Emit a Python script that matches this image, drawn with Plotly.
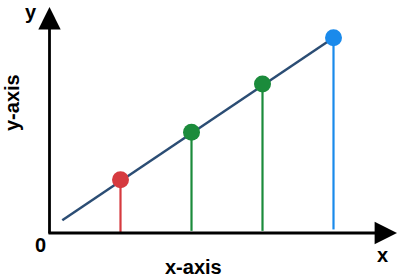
import plotly.graph_objects as go

# data (abstract units)
point_x = [1, 2, 3, 4]
point_y = [0.75, 1.42, 2.10, 2.75]
point_colors = ["#d63a3f", "#1b8b3b", "#1b8b3b", "#1a8aeb"]
stem_bottom = [0.0, 0.03, 0.03, 0.05]
line_x = [0.18, 4]
line_y = [0.18, 2.75]

fig = go.Figure()

# stems
for x, y, yb, c in zip(point_x, point_y, stem_bottom, point_colors):
    fig.add_trace(go.Scatter(x=[x, x], y=[yb, y], mode="lines",
                             line=dict(color=c, width=2.2), hoverinfo="skip"))

# trend line
fig.add_trace(go.Scatter(x=line_x, y=line_y, mode="lines",
                         line=dict(color="#2b4d74", width=2.5), hoverinfo="skip"))

# points
fig.add_trace(go.Scatter(x=point_x, y=point_y, mode="markers",
                         marker=dict(color=point_colors, size=17, line=dict(width=0)),
                         hoverinfo="skip"))

W, H = 400, 280
ox, oy, unit = 49.5, 233, 71.0
xr = [(0 - ox) / unit, (W - ox) / unit]
yr = [(oy - H) / unit, oy / unit]

def px(x):
    return (x - ox) / unit

def py(y):
    return (oy - y) / unit

# axes arrows
fig.add_annotation(x=px(397), y=py(233), ax=px(47), ay=py(233), xref="x", yref="y",
                   axref="x", ayref="y", text="", showarrow=True, arrowhead=2,
                   arrowsize=1.6, arrowwidth=2.8, arrowcolor="black", standoff=0)
fig.add_annotation(x=px(49.5), y=py(7), ax=px(49.5), ay=py(235), xref="x", yref="y",
                   axref="x", ayref="y", text="", showarrow=True, arrowhead=2,
                   arrowsize=1.6, arrowwidth=2.8, arrowcolor="black", standoff=0)

font = dict(family="Liberation Sans, Arial, sans-serif", size=20, color="black")
labels = [("y", 31, 12, 0), ("x", 382, 255, 0), ("0", 40, 245, 0),
          ("x-axis", 193, 267, 0), ("y-axis", 12, 103, -90)]
for t, x, y, ang in labels:
    fig.add_annotation(x=x / W, y=1 - y / H, xref="paper", yref="paper",
                       text="<b>" + t + "</b>",
                       showarrow=False, font=font, textangle=ang,
                       xanchor="center", yanchor="middle")

fig.update_layout(width=W, height=H, margin=dict(l=0, r=0, t=0, b=0),
                  paper_bgcolor="white", plot_bgcolor="white", showlegend=False,
                  xaxis=dict(range=xr, visible=False, fixedrange=True),
                  yaxis=dict(range=yr, visible=False, fixedrange=True))

fig.write_html("out.html", config={"displayModeBar": False})
